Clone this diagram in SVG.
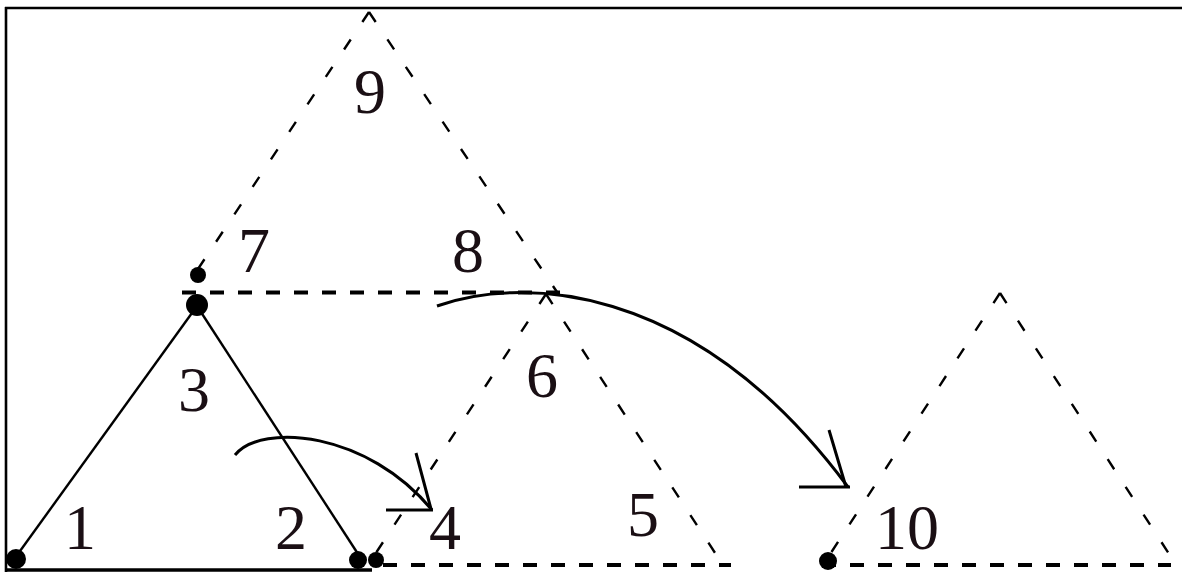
<svg xmlns="http://www.w3.org/2000/svg" width="1182" height="572" viewBox="0 0 1182 572">
<style>
.frame{stroke:#000;stroke-width:2.6;fill:none}
.solid{stroke:#000;stroke-width:2.4;fill:none}
.dside{stroke:#000;stroke-width:2.4;fill:none;stroke-dasharray:12 21}
.dbase{stroke:#000;stroke-width:4;fill:none;stroke-dasharray:14 14}
.arc{stroke:#000;stroke-width:3;fill:none}
.dot{fill:#000}
.lbl{font-family:"Liberation Serif","Times New Roman",serif;font-size:64px;fill:#1a0f14;text-anchor:middle}
</style>
<rect width="1182" height="572" fill="#fff"/>
<g id="frame">
<line class="frame" x1="5" y1="8" x2="1182" y2="8"/>
<line class="frame" x1="6" y1="7" x2="6" y2="572"/>
<line x1="5" y1="570" x2="372" y2="570" stroke="#000" stroke-width="3.5"/>
</g>
<g id="tri9">
<line class="dside" x1="369" y1="12" x2="188" y2="284"/>
<line class="dside" x1="369" y1="12" x2="557" y2="292"/>
<line class="dbase" x1="182" y1="292.5" x2="560" y2="292.5"/>
<text class="lbl" x="370" y="113">9</text>
<text class="lbl" x="254" y="272">7</text>
<text class="lbl" x="468" y="272">8</text>
</g>
<g id="tri3">
<line class="solid" x1="197" y1="306" x2="15" y2="558"/>
<line class="solid" x1="197" y1="306" x2="360" y2="557"/>
<text class="lbl" x="194" y="411">3</text>
<text class="lbl" x="80" y="549">1</text>
<text class="lbl" x="291" y="549">2</text>
</g>
<g id="tri6">
<line class="dside" x1="546" y1="294" x2="370" y2="562"/>
<line class="dside" x1="546" y1="294" x2="721" y2="562"/>
<line class="dbase" x1="383" y1="565" x2="731" y2="565"/>
<text class="lbl" x="542" y="397">6</text>
<text class="lbl" x="445" y="549">4</text>
<text class="lbl" x="643" y="536">5</text>
</g>
<g id="tri10">
<line class="dside" x1="1000" y1="293" x2="825" y2="562"/>
<line class="dside" x1="1000" y1="293" x2="1173" y2="560"/>
<line class="dbase" x1="822" y1="565" x2="1171" y2="565"/>
<text class="lbl" x="907" y="549">10</text>
</g>
<g id="dots">
<circle class="dot" cx="198" cy="275" r="8"/>
<circle class="dot" cx="197" cy="305" r="11"/>
<circle class="dot" cx="16" cy="559" r="10"/>
<circle class="dot" cx="358" cy="560" r="9"/>
<circle class="dot" cx="376" cy="560" r="8"/>
<circle class="dot" cx="828" cy="561" r="9"/>
</g>
<g id="connectors">
<path class="arc" d="M235,455 C262,422 368,432 432,510"/>
<path class="arc" d="M416,453 L431,509 M386,510 L433,510"/>
<path class="arc" d="M437,306 C515,278 690,275 848,487"/>
<path class="arc" d="M829,430 L846,487 M799,487 L850,487"/>
</g>
</svg>
